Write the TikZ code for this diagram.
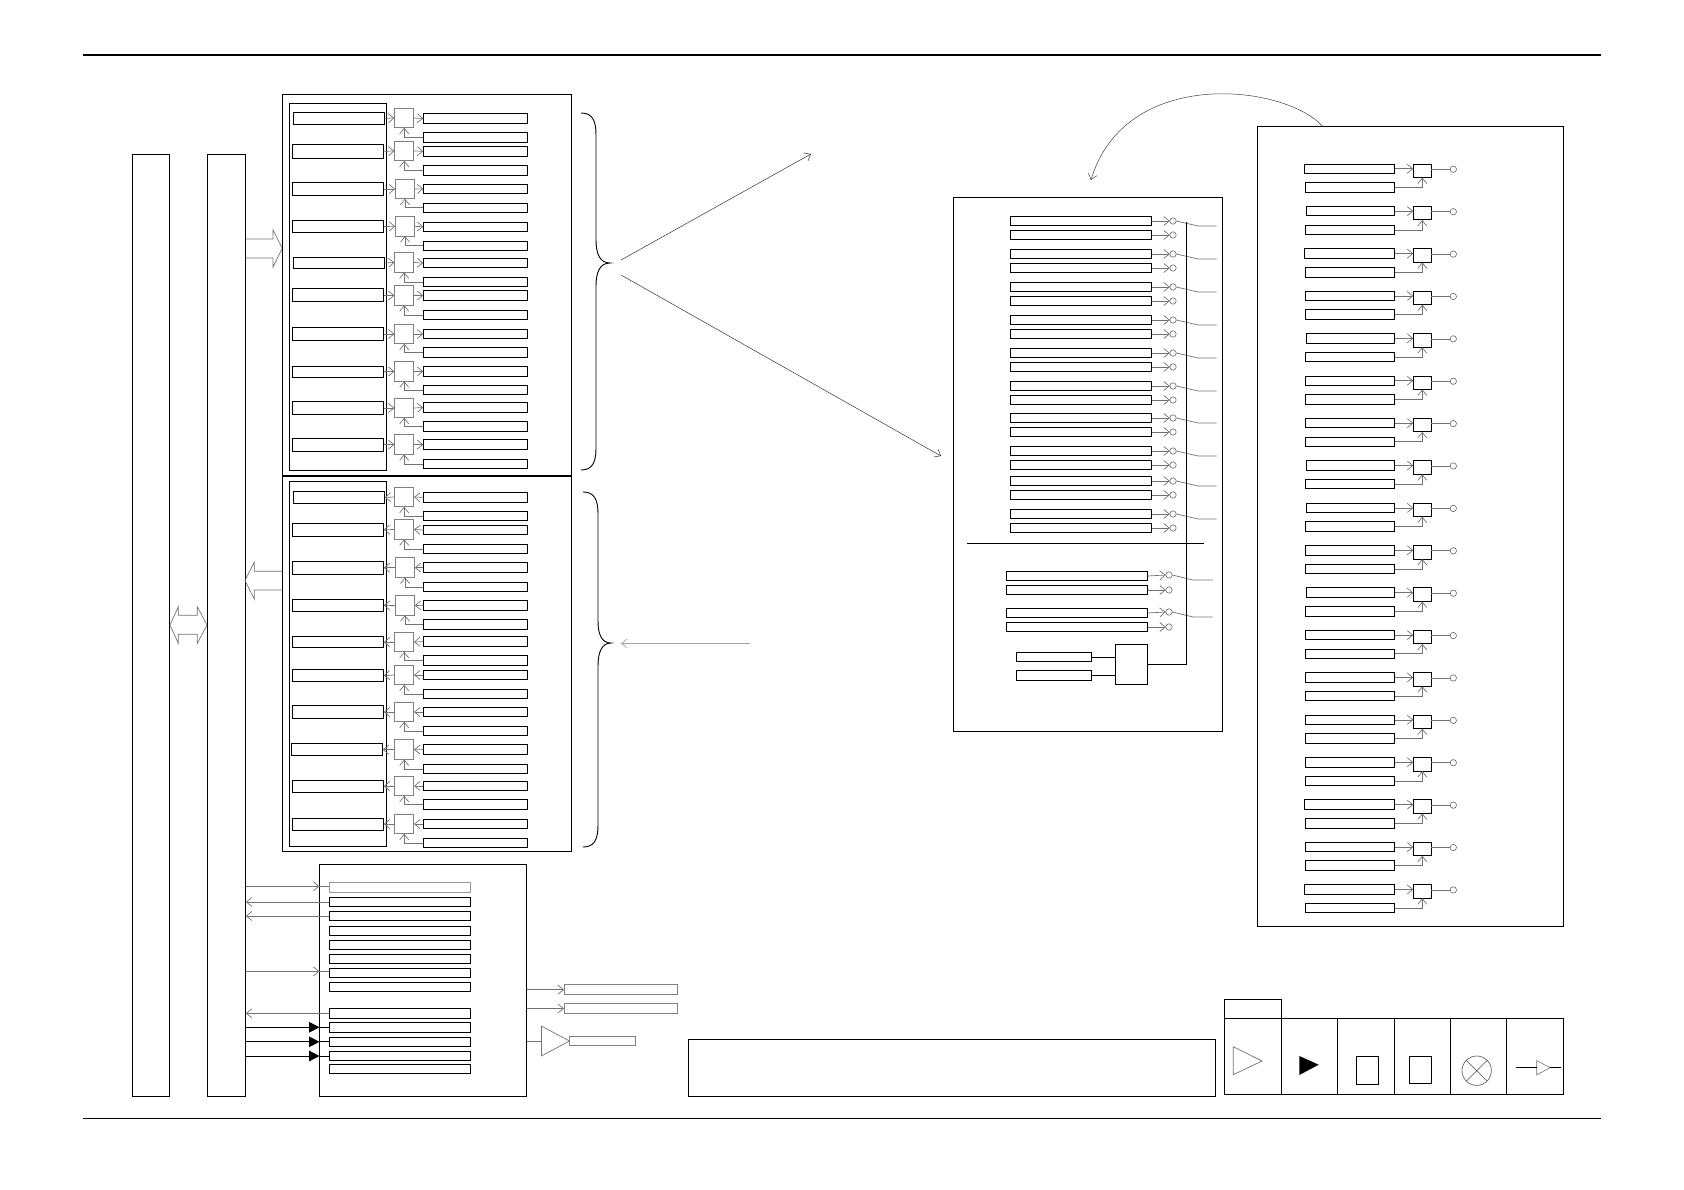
\documentclass[tikz,border=0pt]{standalone}
\usepackage{amsmath}
\usetikzlibrary{arrows.meta,positioning,calc,shapes.geometric}
\tikzset{
    box/.style={draw,rectangle,inner sep=0pt,outer sep=0pt,line width=1pt},
    bar/.style={box,anchor=north west,minimum width=37.5pt,minimum height=942.2pt},
    srcbox/.style={box,anchor=west,minimum width=91.4pt},
    regbox/.style={box,anchor=west,minimum width=104.4pt,minimum height=9.5pt},
    sqr/.style={box,draw=black!50,minimum size=19.5pt},
    ctlbox/.style={box,anchor=west,minimum width=141.3pt},
    longbox/.style={box,anchor=west,minimum width=141.4pt,minimum height=9pt},
    wrdbox/.style={box,anchor=west,minimum height=9.5pt},
    latch/.style={box,minimum width=18pt,minimum height=13.5pt},
    pad/.style={draw=black!60,circle,inner sep=0pt,outer sep=0pt,minimum size=6.4pt,line width=0.6pt},
    line/.style={draw=black!55,line width=0.7pt},
    flow/.style={line,-{Straight Barb[length=5.5pt,width=9pt]}},
    solid head/.style={line,-{Triangle[length=10.3pt,width=10.6pt,fill=black,color=black]}},
    rule/.style={draw=black,line width=1pt},
    hollow/.style={draw=black!55,line width=0.7pt,line join=miter},
    curly/.style={draw=black,line width=0.9pt},
}
\begin{document}
\begin{tikzpicture}[x=1pt,y=-1pt]
    \useasboundingbox (0,0) rectangle (1684,1190);
    \draw[line width=1.6pt] (82.7,54.8) -- (1600.5,54.8);
    \draw[line width=0.9pt] (82.7,1118) -- (1600.5,1118);

    % buses on the left
    \node[bar] (busa) at (132.2,154.1) {};
    \node[bar,minimum width=38.5pt] (busb) at (207.3,154.1) {};
    \draw[hollow] (170,625) -- (178.3,606.7) -- (178.3,615.3) -- (197.3,615.3) -- (197.3,606.7) -- (207,625)
        -- (197.3,643.3) -- (197.3,634.3) -- (178.3,634.3) -- (178.3,643.3) -- cycle;
    \draw[hollow] (245.8,239) -- (273,239) -- (273,230) -- (282.3,248.3) -- (273,267) -- (273,258) -- (245.8,258);
    \draw[hollow] (282.3,571.3) -- (254.3,571.3) -- (254.3,562) -- (245,580.7) -- (254.3,599.3) -- (254.3,590) -- (282.3,590);

    % write section
    \node[box,anchor=north west,minimum width=289.2pt,minimum height=381pt] (wrblock) at (282.5,95) {};
    \node[box,anchor=north west,minimum width=97.4pt,minimum height=367pt] (wrframe) at (289.3,103.3) {};
    \foreach \i/\lx/\ly/\lh/\sx/\sy/\uy/\dy in {
        1/293.3/118.3/12/404.2/118/118.5/137.3,
        2/292.3/151.3/14/404.2/151/151.3/170.3,
        3/292.3/189/13.4/405/189/188.8/207.8,
        4/292.3/226.5/12.4/405/226.3/226.8/245.8,
        5/293.3/263/11.4/404.2/262.5/263.2/282,
        6/292.3/295.5/13/404.2/295.5/295.5/315,
        7/292.3/334/13/404.2/334/334/352.5,
        8/292.3/371.5/11/404.2/371.5/371.5/390,
        9/292.3/408/13/404.2/408/407.5/426.5,
        10/292.3/444.6/13/404.2/444.6/444.6/464}{
        \node[srcbox,minimum height=\lh pt] (wl\i) at (\lx,\ly) {};
        \node[sqr] (ws\i) at (\sx,\sy) {};
        \node[regbox] (wu\i) at (423.3,\uy) {};
        \node[regbox] (wd\i) at (423.3,\dy) {};
        \draw[flow] (wl\i.east) -- (ws\i.west);
        \draw[flow] (ws\i.east) -- (wu\i.west);
        \draw[flow] (wd\i.west) -| (ws\i.south);
    }

    % read section
    \node[box,anchor=north west,minimum width=289.2pt,minimum height=376pt] (rdblock) at (282.5,475.7) {};
    \draw[line width=2.2pt] (rdblock.north west) -- (rdblock.north east);
    \node[box,anchor=north west,minimum width=97.4pt,minimum height=364.3pt] (rdframe) at (289.3,481.7) {};
    \foreach \i/\lx/\ly/\lh/\sx/\sy/\uy/\dy in {
        1/293.3/497.5/12.4/404.2/497/497.3/516,
        2/292.3/529.8/13/404.2/529.5/530/549,
        3/292.3/567.7/13.3/405/567.7/567.7/587,
        4/292.3/605.3/12/405/605.5/605.3/624.3,
        5/292.3/642/10.6/404.2/642/641.7/660.5,
        6/292.3/675.5/12/404.2/675/675/694,
        7/292.3/712/13/404.2/712/712/731,
        8/291.3/749.7/11.5/404.2/749.7/749.6/769,
        9/292.3/786/12/404.2/786/786/804.4,
        10/292.3/824/12/404.2/824/824/843}{
        \node[srcbox,minimum height=\lh pt] (rl\i) at (\lx,\ly) {};
        \node[sqr] (rs\i) at (\sx,\sy) {};
        \node[regbox] (ru\i) at (423.3,\uy) {};
        \node[regbox] (rd\i) at (423.3,\dy) {};
        \draw[flow] (rs\i.west) -- (rl\i.east);
        \draw[flow] (ru\i.west) -- (rs\i.east);
        \draw[flow] (rd\i.west) -| (rs\i.south);
    }

    % braces
    \draw[curly] (581,113) .. controls (592,113) and (596,120) .. (596,135) -- (596,240) .. controls (596,254) and (600,263) .. (610,263)
        .. controls (600,263) and (596,272) .. (596,286) -- (596,448) .. controls (596,463) and (592,470) .. (581,470);
    \draw[curly] (583,492) .. controls (594,492) and (598,499) .. (598,514) -- (598,621) .. controls (598,635) and (602,643) .. (611,643)
        .. controls (602,643) and (598,652) .. (598,666) -- (598,825) .. controls (598,840) and (594,847) .. (583,847);
    \coordinate (fana) at (621,260);
    \coordinate (fanb) at (811,154);
    \coordinate (fanc) at (621,275);
    \coordinate (fand) at (941,456);
    \coordinate (rdin) at (750,643.5);
    \coordinate (rdtip) at (621,643.5);
    \draw[flow,line width=0.5pt,draw=black!80] (fana) -- (fanb);
    \draw[flow,line width=0.5pt,draw=black!80] (fanc) -- (fand);
    \draw[flow,draw=black!35] (rdin) -- (rdtip);

    % control section
    \node[box,anchor=north west,minimum width=207.2pt,minimum height=232pt] (ctl) at (319.4,864.3) {};
    \node[ctlbox,draw=black!40,minimum height=10pt] (c1) at (329.4,887.3) {};
    \foreach \i/\cy/\ch in {2/902/9.4,3/916/9.4,4/931/9.4,5/945/9.4,6/959/9.4,7/973/9.4,8/987/9.4,
        9/1013.3/10,10/1027.3/10,11/1041.8/9,12/1056/9.4,13/1069/9.4}{
        \node[ctlbox,minimum height=\ch pt] (c\i) at (329.4,\cy) {};
    }
    \coordinate (cin1) at (329.4,886.3);
    \coordinate (cin7) at (329.4,971.3);
    \foreach \i in {1,7}{
        \draw[flow] (busb.east |- cin\i) -- (ctl.west |- cin\i);
        \draw[line] (ctl.west |- cin\i) -- (cin\i);
    }
    \foreach \i in {2,3,9}{
        \draw[flow] (c\i.west) -- (busb.east |- c\i.west);
    }
    \foreach \i in {10,11,12}{
        \draw[solid head,draw=black] (busb.east |- c\i.west) -- (ctl.west |- c\i.west);
        \draw[rule] (ctl.west |- c\i.west) -- (c\i.west);
    }
    \node[box,anchor=west,draw=black!50,minimum width=113.5pt,minimum height=10pt] (outa) at (564,989.7) {};
    \node[box,anchor=west,draw=black!50,minimum width=113.5pt,minimum height=10pt] (outb) at (564,1008.5) {};
    \node[box,anchor=west,draw=black!50,minimum width=65.9pt,minimum height=9.4pt] (outc) at (569.5,1041) {};
    \node[draw=black!55,isosceles triangle,isosceles triangle apex angle=56,inner sep=0pt,outer sep=0pt,
        minimum height=28.1pt,anchor=apex,line width=0.7pt] (drv) at (outc.west) {};
    \draw[flow] (ctl.east |- outa.west) -- (outa.west);
    \draw[flow] (ctl.east |- outb.west) -- (outb.west);
    \draw[line] (ctl.east |- outc.west) -- (drv.west |- outc.west);

    % note box
    \node[box,anchor=north west,minimum width=527.4pt,minimum height=57pt] (note) at (688.4,1039.6) {};

    % middle block
    \node[box,anchor=north west,minimum width=269pt,minimum height=534pt] (mid) at (953.5,197.6) {};
    \foreach \i/\uy/\dy in {1/221/235,2/254/268,3/287/301,4/320/334,5/353/367,6/386/400,7/418/432,8/451/465,9/481/495,10/514/528}{
        \node[longbox] (mu\i) at (1010.3,\uy) {};
        \node[longbox] (md\i) at (1010.3,\dy) {};
        \node[pad] (mp\i) at (1173,\uy) {};
        \node[pad] (mq\i) at (1173,\dy) {};
        \coordinate (mt\i) at (1216.7,\uy+5);
        \draw[flow] (mu\i.east) -- (mp\i.west);
        \draw[flow] (md\i.east) -- (mq\i.west);
        \draw[line] (mp\i.east) -- ($(mt\i)+(-18.5,0)$) -- (mt\i);
    }
    \draw[rule] (967.3,543.3) -- (1204,543.3);
    \foreach \i/\uy/\dy in {11/576/590,12/613/627}{
        \node[longbox] (mu\i) at (1006.3,\uy) {};
        \node[longbox] (md\i) at (1006.3,\dy) {};
        \node[pad] (mp\i) at (1169,\uy-1) {};
        \node[pad] (mq\i) at (1169,\dy) {};
        \coordinate (mt\i) at (1212.7,\uy+4);
        \draw[flow] (mu\i.east) -- (mp\i.west);
        \draw[flow] (md\i.east) -- (mq\i.west);
        \draw[line] (mp\i.east) -- ($(mt\i)+(-19.5,0)$) -- (mt\i);
    }
    \node[box,anchor=west,minimum width=75.4pt,minimum height=9.4pt] (ina) at (1016.3,657) {};
    \node[box,anchor=west,minimum width=75.4pt,minimum height=10pt] (inb) at (1016.3,675.3) {};
    \node[box,minimum width=32.4pt,minimum height=40pt] (gate) at (1131.5,664.3) {};
    \coordinate (rail) at (1186.3,222);
    \draw[rule] (ina.east) -- (gate.west |- ina.east);
    \draw[rule] (inb.east) -- (gate.west |- inb.east);
    \draw[rule] (rail) |- (gate.east);

    % right block
    \node[box,anchor=north west,minimum width=305.6pt,minimum height=799.6pt] (pins) at (1257.6,126.7) {};
    \foreach \i/\ex in {0/1304,1/1306,2/1304,3/1305,4/1306,5/1305,6/1305,7/1306,8/1306,9/1305,10/1306,11/1305,12/1305,13/1305,14/1305,15/1304,16/1305,17/1304}{
        \pgfmathsetmacro{\ey}{168.8+42.39*\i}
        \pgfmathsetmacro{\ew}{1394.7-\ex}
        \node[wrdbox,minimum width=\ew pt] (eu\i) at (\ex,\ey) {};
        \node[wrdbox,minimum width=89.4pt] (ed\i) at (1305.3,\ey+18.7) {};
        \node[latch] (el\i) at (1422.3,\ey+2) {};
        \node[pad] (ep\i) at (1453.3,\ey+0.5) {};
        \draw[flow] (eu\i.east) -- (el\i.west |- eu\i.east);
        \draw[flow] (ed\i.east) -| (el\i.south);
        \draw[line] (el\i.east |- ep\i.west) -- (ep\i.west);
    }
    \coordinate (arcs) at (1323,126.7);
    \coordinate (arce) at (1091,180);
    \draw[flow,line width=0.5pt,draw=black!75] (arcs) .. controls (1285,84) and (1125,66) .. (arce);

    % legend
    \node[box,anchor=north west,minimum width=57pt,minimum height=19pt] (tab) at (1224.3,999.3) {};
    \node[box,anchor=north west,minimum width=57pt,minimum height=76pt] (lga) at (1224.3,1018.3) {};
    \node[box,anchor=north west,minimum width=56pt,minimum height=76pt] (lgb) at (1281.3,1018.3) {};
    \node[box,anchor=north west,minimum width=57pt,minimum height=76pt] (lgc) at (1337.3,1018.3) {};
    \node[box,anchor=north west,minimum width=56pt,minimum height=76pt] (lgd) at (1394.3,1018.3) {};
    \node[box,anchor=north west,minimum width=56pt,minimum height=76pt] (lge) at (1450.3,1018.3) {};
    \node[box,anchor=north west,minimum width=57.4pt,minimum height=76pt] (lgf) at (1506.3,1018.3) {};
    \draw[hollow] (1233.3,1046.7) -- (1233.3,1074.7) -- (1262,1061) -- cycle;
    \fill (1299.3,1056) -- (1299.3,1075) -- (1318.7,1064.7) -- cycle;
    \node[box,anchor=north west,minimum width=22pt,minimum height=28pt] (lgr) at (1356.3,1056.3) {};
    \node[box,anchor=north west,minimum width=22.4pt,minimum height=27pt] (lgs) at (1409.3,1056.3) {};
    \node[draw=black!60,circle,inner sep=0pt,outer sep=0pt,minimum size=29.4pt,line width=0.7pt] (lmp) at (1476.7,1070.7) {};
    \draw[draw=black!70,line width=0.6pt] (lmp.north west) -- (lmp.south east);
    \draw[draw=black!70,line width=0.6pt] (lmp.north east) -- (lmp.south west);
    \node[draw=black!55,isosceles triangle,isosceles triangle apex angle=56,inner sep=0pt,outer sep=0pt,
        minimum height=13.4pt,line width=0.6pt] (lbf) at (1541,1067.7) {};
    \coordinate (lbl) at (1516,1067.8);
    \coordinate (lbr) at (1560.7,1067.8);
    \draw[rule] (lbl) -- (lbf.west |- lbl);
    \draw[rule] (lbf.east |- lbr) -- (lbr);
\end{tikzpicture}
\end{document}
